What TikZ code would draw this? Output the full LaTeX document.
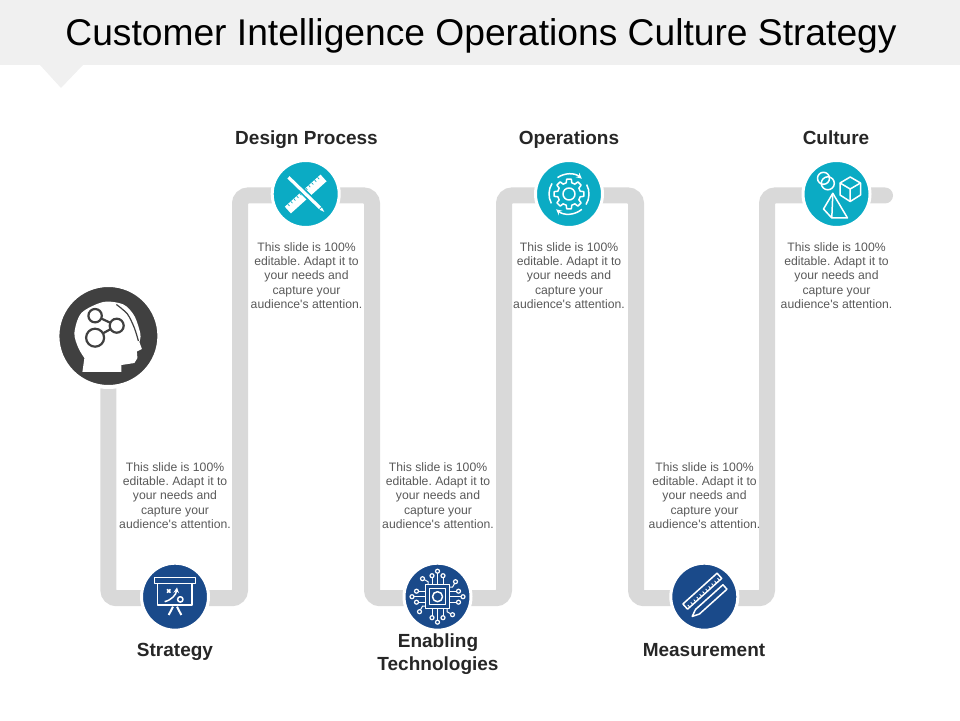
\documentclass[tikz,border=0pt]{standalone}
\usepackage{fontspec}
\setmainfont{Liberation Sans}
\usetikzlibrary{backgrounds}
\definecolor{bandgray}{HTML}{F0F0F0}
\definecolor{trackgray}{HTML}{D9D9D9}
\definecolor{headgray}{HTML}{404040}
\definecolor{tealfill}{HTML}{0BABC4}
\definecolor{bluefill}{HTML}{1A4A8A}
\definecolor{blurbgray}{HTML}{595959}
\definecolor{labelgray}{HTML}{262626}
\tikzset{
  tealcirc/.style = {circle, fill = tealfill, draw = white, line width = 3, inner sep = 0, minimum size = 67},
  bluecirc/.style = {circle, fill = bluefill, draw = white, line width = 3, inner sep = 0, minimum size = 67},
  headcirc/.style = {circle, fill = headgray, draw = white, line width = 4, inner sep = 0, minimum size = 102},
  track/.style = {trackgray, line width = 16, rounded corners = 8, line cap = round},
  lbl/.style = {align = center, inner sep = 0, text = labelgray, font = \fontsize{19}{23}\selectfont\bfseries},
  blurb/.style = {align = center, inner sep = 0, text = blurbgray, font = \fontsize{12.2}{14.2}\selectfont\frenchspacing},
  iconline/.style = {white, line width = 1.5, line join = round},
  thinline/.style = {white, line width = 1},
  chipdot/.style = {white, line width = 1.2},
  brainline/.style = {headgray, line width = 2.2}
}
\newcommand{\blurbtext}{This slide is 100\%\\editable. Adapt it to\\your needs and\\capture your\\audience\textquotesingle s attention.}

\begin{document}
\begin{tikzpicture}[x = 1pt, y = 1pt]
    \useasboundingbox (0, 0) rectangle (960, 720);

    \node [headcirc] (head) at (108.4, 384) {};
    \node [bluecirc] (strategy) at (175, 123.3) {};
    \node [tealcirc] (design) at (305.7, 526) {};
    \node [bluecirc] (enabling) at (437.5, 123.3) {};
    \node [tealcirc] (operations) at (569, 526) {};
    \node [bluecirc] (measurement) at (704.3, 123.3) {};
    \node [tealcirc] (culture) at (836.5, 526) {};

    \coordinate (bendb) at (240, 300);
    \coordinate (bendc) at (372, 300);
    \coordinate (bendd) at (504, 300);
    \coordinate (bende) at (636, 300);
    \coordinate (bendf) at (767, 300);
    \coordinate (tail) at (885, 524.5);

    \begin{pgfonlayer}{background}
      \fill [bandgray] (0, 655) rectangle (960, 720);
      \fill [bandgray] (40, 655) -- (83, 655) -- (61, 632) -- cycle;
      \draw [track] (head) |- ([yshift = -1.5] strategy.center) -| (bendb) |- ([yshift = -1.5] design.center)
        -| (bendc) |- ([yshift = -1.5] enabling.center) -| (bendd) |- ([yshift = -1.5] operations.center)
        -| (bende) |- ([yshift = -1.5] measurement.center) -| (bendf) |- (tail);
    \end{pgfonlayer}

    \node [anchor = base] (title) at (481, 674) {\fontsize{37.2}{40}\selectfont Customer Intelligence Operations Culture Strategy};

    \node [lbl, anchor = base] (designlbl) at (306.5, 575) {Design Process};
    \node [lbl, anchor = base] (operationslbl) at (569, 575) {Operations};
    \node [lbl, anchor = base] (culturelbl) at (836, 575) {Culture};
    \node [lbl, anchor = base] (strategylbl) at (175, 64) {Strategy};
    \node [lbl] (enablinglbl) at (438, 66) {Enabling\\Technologies};
    \node [lbl, anchor = base] (measurementlbl) at (704, 64) {Measurement};

    \node [blurb] (designtxt) at (306.5, 444.5) {\blurbtext};
    \node [blurb] (operationstxt) at (569, 444.5) {\blurbtext};
    \node [blurb] (culturetxt) at (836.5, 444.5) {\blurbtext};
    \node [blurb] (strategytxt) at (175, 224.5) {\blurbtext};
    \node [blurb] (enablingtxt) at (438, 224.5) {\blurbtext};
    \node [blurb] (measurementtxt) at (704.5, 224.5) {\blurbtext};

    % head
    \begin{scope}[shift = {(head.center)}]
      \fill [white] (-26, -36) -- plot [smooth] coordinates {(-24, -22) (-30, -12) (-34, 3) (-27, 23) (-5, 34) (15, 31.5) (26, 20) (32, 2) (31, -6)}
        -- (33.5, -13) -- (28.5, -15.5) -- (29, -22) -- (26, -27) -- (13, -29) -- (13, -36) -- cycle;
      \draw [headgray, line width = 1.2] plot [smooth] coordinates {(8, 31.5) (19, 22) (26, 8) (30, -5)};
      \draw [brainline] (-13.3, 20.3) -- (8.3, 10.3) -- (-13.3, -1.7);
      \draw [brainline, fill = white] (-13.3, 20.3) circle (6.7);
      \draw [brainline, fill = white] (8.3, 10.3) circle (7);
      \draw [brainline, fill = white] (-13.3, -1.7) circle (9);
    \end{scope}

    % design
    \begin{scope}[shift = {(design.center)}]
      \begin{scope}[rotate = 42]
        \fill [white] (-24, -4.5) rectangle (24, 4.5);
        \foreach \x in {-20, -16, ..., 20} {
          \draw [tealfill, line width = 0.7] (\x, 4.5) -- (\x, 2);
        }
      \end{scope}
      \begin{scope}[rotate = -44]
        \draw [tealfill, line width = 6.5] (-24, 0) -- (20, 0);
        \draw [white, line width = 3.2] (-24, 0) -- (20, 0);
        \fill [white] (21, -1.6) -- (26, 0) -- (21, 1.6) -- cycle;
      \end{scope}
    \end{scope}

    % operations
    \begin{scope}[shift = {(operations.center)}]
      \draw [iconline] (-14:11.5) \foreach \a in {0, 45, ..., 315} {
        -- ({\a - 14}:11.5) -- ({\a - 9}:15) -- ({\a + 9}:15) -- ({\a + 14}:11.5)
      } -- cycle;
      \draw [iconline] (0, 0) circle (6);
      \draw [iconline, -stealth] (125:20) arc(125:50:20);
      \draw [iconline] (28:20) arc(28:-32:20);
      \draw [iconline, -stealth] (-50:20) arc(-50:-130:20);
      \draw [iconline] (208:20) arc(208:148:20);
    \end{scope}

    % culture
    \begin{scope}[shift = {(culture.center)}]
      \draw [iconline] (-13, 15.7) circle (6);
      \draw [iconline] (-8.7, 10.7) circle (6.5);
      \draw [iconline] (13.7, 17) -- (24, 11) -- (24, -1) -- (13.7, -7.5) -- (3.5, -1) -- (3.5, 11) -- cycle;
      \draw [iconline] (3.5, 11) -- (13.7, 5) -- (24, 11) (13.7, 5) -- (13.7, -7.5);
      \draw [iconline] (-3.7, 0.7) -- (-13, -15) -- (-4.7, -24) -- (11, -24) -- cycle;
      \draw [iconline] (-3.7, 0.7) -- (-4.7, -24);
    \end{scope}

    % strategy
    \begin{scope}[shift = {(strategy.center)}]
      \draw [iconline] (-20.7, 13.3) rectangle (20.3, 19);
      \draw [iconline] (-17.3, 13.3) rectangle (17, -8.3);
      \draw [white, line width = 2] (-2, -10) -- (-6.3, -18.3) (2, -10) -- (6.3, -18.3);
      \draw [iconline] (-8, 4) -- (-4.6, 7.4) (-8, 7.4) -- (-4.6, 4);
      \draw [iconline, -stealth] (-10.3, -5) .. controls (-3, -3) and (1, 2) .. (2, 9.3);
      \draw [iconline] (5.3, -2.7) circle (2.7);
    \end{scope}

    % enabling
    \begin{scope}[shift = {(enabling.center)}]
      \draw [iconline] (-12, -12) rectangle (12, 12);
      \draw [iconline] (-8, -8) rectangle (8, 8);
      \draw [iconline] (0, 0) circle (5);
      \foreach \a in {0, 90, 180, 270} {
        \begin{scope}[rotate = \a]
          \draw [thinline] (12, 0) -- (23.5, 0);
          \draw [chipdot] (25.5, 0) circle (2);
          \draw [thinline] (12, 5.5) -- (19, 5.5);
          \draw [chipdot] (21, 5.5) circle (2);
          \draw [thinline] (12, -5.5) -- (19, -5.5);
          \draw [chipdot] (21, -5.5) circle (2);
          \draw [thinline] (12, 9.5) -- (15, 9.5) -- (17, 13);
          \draw [chipdot] (18, 15) circle (2);
        \end{scope}
      }
    \end{scope}

    % measurement
    \begin{scope}[shift = {(measurement.center)}]
      \begin{scope}[shift = {(-2, 5.5)}, rotate = 42]
        \draw [iconline] (-23, -3.5) rectangle (23, 3.5);
        \foreach \x in {-20, -16, ..., 20} {
          \draw [white, line width = 0.8] (\x, -3.5) -- (\x, -0.5);
        }
      \end{scope}
      \begin{scope}[shift = {(4.3, -5)}, rotate = 42]
        \draw [iconline] (-22, 0) -- (-15, 3) -- (22, 3) -- (22, -3) -- (-15, -3) -- cycle;
      \end{scope}
    \end{scope}
\end{tikzpicture}
\end{document}
